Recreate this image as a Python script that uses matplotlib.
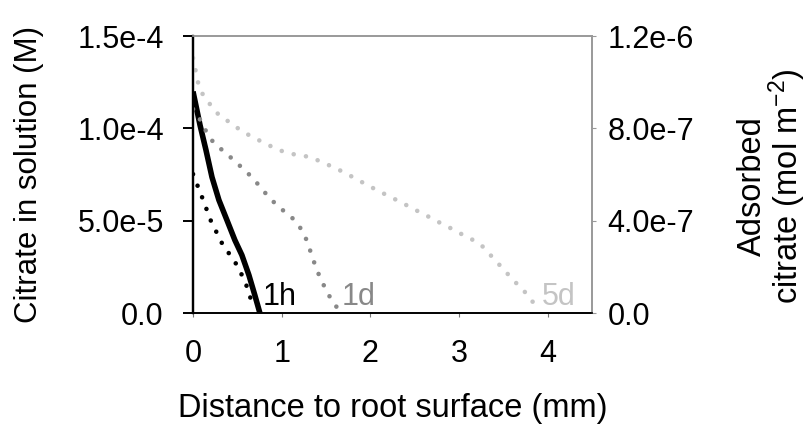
import matplotlib
matplotlib.use('Agg')
import matplotlib.pyplot as plt

plt.rcParams['font.family'] = ['Liberation Sans', 'DejaVu Sans']
plt.rcParams['mathtext.fontset'] = 'custom'
plt.rcParams['mathtext.rm'] = 'Liberation Sans'
plt.rcParams['mathtext.default'] = 'regular'

# 1h citrate in solution (M), solid line
sol_1h_x = [0, 0.079, 0.146, 0.214, 0.292, 0.382, 0.472, 0.551, 0.630, 0.697, 0.754]
sol_1h_y = [1.20e-4, 1.018e-4, 0.883e-4, 0.736e-4, 0.612e-4, 0.504e-4, 0.395e-4, 0.314e-4, 0.206e-4, 0.097e-4, 0.0]

# adsorbed citrate (mol m-2), dotted lines
ads_1h_x = [0, 0.101, 0.202, 0.326, 0.495, 0.562, 0.619, 0.664]
ads_1h_y = [6.02e-7, 5.03e-7, 3.99e-7, 3.03e-7, 2.08e-7, 1.56e-7, 1.04e-7, 0.43e-7]

ads_1d_x = [0, 0.09, 0.157, 0.236, 0.371, 0.495, 0.619, 0.731, 0.844, 0.967, 1.102,
            1.204, 1.271, 1.316, 1.361, 1.406, 1.462, 1.530, 1.642]
ads_1d_y = [8.84e-7, 8.32e-7, 7.80e-7, 7.36e-7, 6.93e-7, 6.50e-7, 6.06e-7, 5.59e-7, 5.07e-7,
            4.59e-7, 4.20e-7, 3.73e-7, 3.25e-7, 2.77e-7, 2.25e-7, 1.78e-7, 1.30e-7, 0.78e-7, 0.13e-7]

ads_5d_x = [0, 0.056, 0.101, 0.191, 0.292, 0.427, 0.551, 0.675, 0.810, 0.945, 1.069, 1.192,
            1.327, 1.451, 1.586, 1.721, 1.845, 1.969, 2.092, 2.227, 2.362, 2.486, 2.621, 2.745,
            2.880, 3.003, 3.138, 3.262, 3.386, 3.498, 3.611, 3.735, 3.859]
ads_5d_y = [1.105e-6, 1.00e-6, 9.53e-7, 9.05e-7, 8.58e-7, 8.23e-7, 7.88e-7, 7.62e-7, 7.36e-7,
            7.10e-7, 6.93e-7, 6.84e-7, 6.76e-7, 6.54e-7, 6.32e-7, 6.06e-7, 5.80e-7, 5.54e-7,
            5.29e-7, 5.03e-7, 4.77e-7, 4.51e-7, 4.25e-7, 3.99e-7, 3.73e-7, 3.47e-7, 3.21e-7,
            2.90e-7, 2.38e-7, 1.91e-7, 1.43e-7, 0.95e-7, 0.35e-7]

x_ticks = [0, 1, 2, 3, 4]
left_ticks = [0, 5e-5, 1e-4, 1.5e-4]
left_labels = ['0.0', '5.0e-5', '1.0e-4', '1.5e-4']
right_ticks = [0, 4e-7, 8e-7, 1.2e-6]
right_labels = ['0.0', '4.0e-7', '8.0e-7', '1.2e-6']

fs = 22
fig = plt.figure(figsize=(8.11, 4.30), dpi=100)
ax = fig.add_axes([0.238, 0.272, 0.492, 0.644])
ax2 = ax.twinx()

ax.plot(sol_1h_x, sol_1h_y, color='black', lw=4.0, solid_capstyle='butt', zorder=3)

dots = dict(dash_capstyle='round', lw=3.3)
ax2.plot(ads_5d_x, ads_5d_y, color='#c4c4c4', linestyle=(0, (0.01, 2.7)), **dots)
ax2.plot(ads_1d_x, ads_1d_y, color='#888888', linestyle=(0, (0.01, 2.7)), **dots)
ax2.plot(ads_1h_x, ads_1h_y, color='black', linestyle=(0, (0.01, 2.7)), **dots)

ax.set_xlim(0, 4.5)
ax.set_ylim(0, 1.5e-4)
ax2.set_ylim(0, 1.2e-6)

ax.set_xticks(x_ticks)
ax.set_xticklabels([str(t) for t in x_ticks], fontsize=fs)
ax.set_yticks(left_ticks)
ax.set_yticklabels(left_labels, fontsize=fs)
ax2.set_yticks(right_ticks)
ax2.set_yticklabels(right_labels, fontsize=fs)

for a in (ax, ax2):
    a.spines['top'].set_color('#999999')
    a.spines['right'].set_color('#999999')
    a.spines['left'].set_color('black')
    a.spines['bottom'].set_color('black')
    a.spines['left'].set_linewidth(1.6)
    a.spines['bottom'].set_linewidth(1.2)
    a.spines['right'].set_linewidth(1.2)
    a.spines['top'].set_linewidth(1.2)

ax.tick_params(axis='y', direction='out', length=7, width=1.4, pad=14)
ax.tick_params(axis='x', direction='out', length=3, width=0.8, color='#777777', pad=16)
ax2.tick_params(axis='y', direction='out', length=3, width=0.8, color='#999999', pad=8)

ax.set_xlabel('Distance to root surface (mm)', fontsize=23.5, labelpad=17)
ax.set_ylabel('Citrate in solution (M)', fontsize=22.5, labelpad=24)
ax2.set_ylabel('Adsorbed\ncitrate (mol m$^{-2}$)', fontsize=23.5, labelpad=31,
               linespacing=0.95)
ax2.yaxis.label.set_y(0.46)

ax.text(0.78, 0.88e-5, '1h', color='black', fontsize=fs, va='center', ha='left')
ax.text(1.68, 0.88e-5, '1d', color='#888888', fontsize=fs, va='center', ha='left')
ax.text(3.93, 0.88e-5, '5d', color='#c4c4c4', fontsize=fs, va='center', ha='left')

fig.savefig('out.png', dpi=100)
